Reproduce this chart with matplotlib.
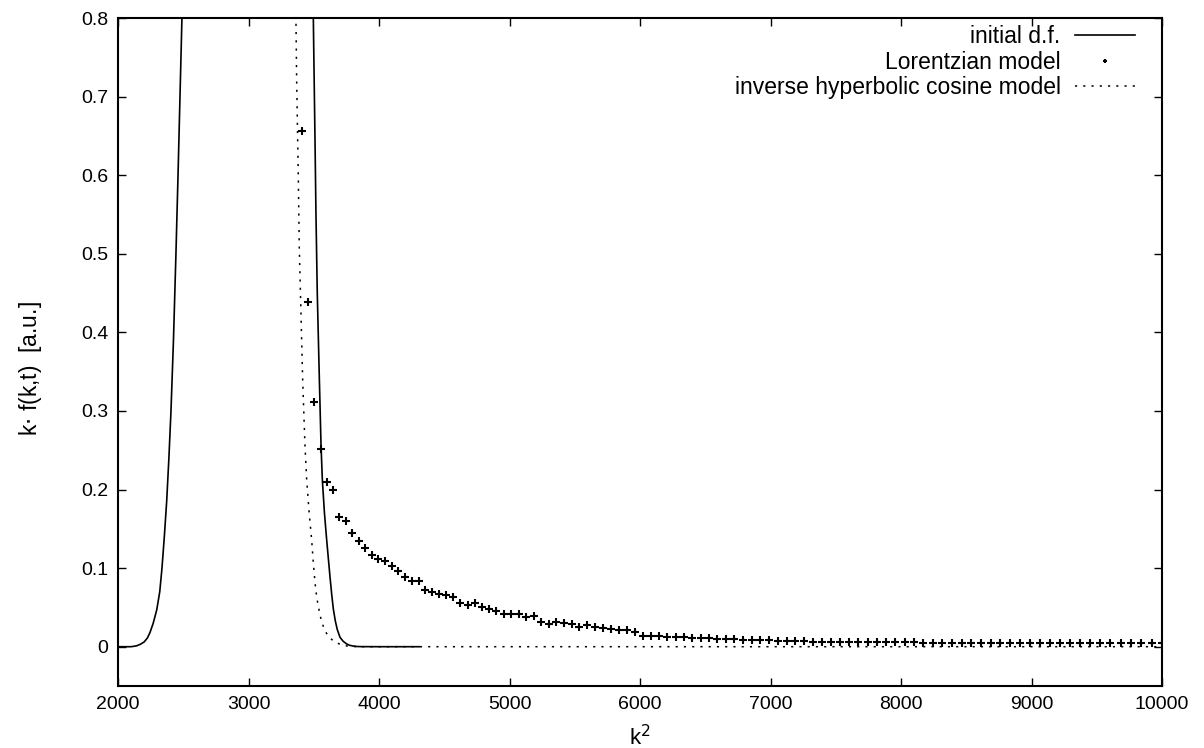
import matplotlib
matplotlib.use("Agg")
import matplotlib.pyplot as plt

plt.rcParams['font.family'] = ['Liberation Sans', 'DejaVu Sans']

# initial distribution function (solid line)
init_x = [2000, 2100, 2140, 2170, 2200, 2225, 2245, 2270, 2297, 2320, 2337, 2355, 2373, 2390, 2406,
          2425, 2444, 2460, 2475, 2490, 2505, 2520,
          3480, 3492, 3500, 3510, 3517, 3527, 3543, 3556, 3566, 3582, 3599, 3612, 3625, 3638, 3650,
          3665, 3680, 3701, 3725, 3752, 3775, 3803, 3830, 3860, 4000, 4310]
init_y = [0.0, 0.0, 0.001, 0.003, 0.006, 0.011, 0.018, 0.030, 0.047, 0.070, 0.100, 0.140, 0.185, 0.240, 0.300,
          0.390, 0.500, 0.600, 0.700, 0.800, 0.95, 1.1,
          1.1, 0.86, 0.76, 0.64, 0.55, 0.45, 0.34, 0.255, 0.212, 0.170, 0.136, 0.112, 0.088, 0.066, 0.048,
          0.033, 0.022, 0.012, 0.007, 0.0035, 0.0018, 0.0008, 0.0003, 0.0001, 0.0, 0.0]

# inverse hyperbolic cosine model (dotted line)
cosh_x = [3340, 3360, 3369, 3382, 3389, 3402, 3415, 3433, 3446, 3465, 3484, 3497, 3510, 3522, 3535,
          3553, 3573, 3598, 3625, 3650, 3676, 3710, 3752, 3800, 3850, 4300, 10000]
cosh_y = [1.1, 0.85, 0.721, 0.594, 0.509, 0.425, 0.340, 0.255, 0.212, 0.170, 0.136, 0.106, 0.081, 0.064, 0.051,
          0.037, 0.026, 0.017, 0.011, 0.0075, 0.005, 0.0025, 0.001, 0.0003, 0.0, 0.0, 0.0]

# Lorentzian model (points)
lor_x = [3411, 3457, 3505, 3552, 3600, 3648, 3697, 3745, 3795, 3844, 3894, 3944, 3994,
         4045, 4096, 4147, 4199, 4251, 4303, 4356, 4409, 4462, 4516, 4570, 4624, 4679, 4733, 4789, 4844, 4900, 4956,
         5013, 5069, 5127, 5184, 5242, 5300, 5358, 5417, 5476, 5535, 5595, 5655, 5715, 5776, 5837, 5898, 5960,
         6022, 6084, 6147, 6209, 6273, 6336, 6400, 6464, 6529, 6593, 6659, 6724, 6790, 6856, 6922, 6989, 7056,
         7123, 7191, 7259, 7327,
         7396, 7465, 7534, 7604, 7674, 7744, 7815, 7885, 7957, 8028, 8100, 8172, 8245, 8317, 8391, 8464,
         8538, 8612, 8686, 8761, 8836, 8911, 8987, 9063, 9139, 9216, 9293, 9370, 9448, 9526, 9604, 9683,
         9761, 9841, 9920, 10000]
lor_y = [0.656, 0.438, 0.312, 0.252, 0.210, 0.200, 0.165, 0.160, 0.145, 0.135, 0.125, 0.117, 0.111,
         0.109, 0.103, 0.096, 0.089, 0.084, 0.084, 0.0725, 0.070, 0.067, 0.066, 0.063, 0.056, 0.0525, 0.056, 0.0505, 0.048, 0.046, 0.041,
         0.041, 0.042, 0.038, 0.039, 0.031, 0.029, 0.032, 0.030, 0.029, 0.025, 0.0276, 0.0254, 0.0233, 0.0225, 0.0208, 0.0208, 0.0182,
         0.014, 0.014, 0.0131, 0.0127, 0.0123, 0.0118, 0.0115, 0.0106, 0.0106, 0.0102, 0.0098, 0.0093, 0.0089, 0.0085, 0.008, 0.008, 0.0076,
         0.0072, 0.0072, 0.0072, 0.0064,
         0.0065, 0.0063, 0.0062, 0.0061, 0.0060, 0.0058, 0.0058, 0.0057, 0.0056, 0.0055, 0.0054, 0.0053, 0.0053, 0.0052, 0.0051, 0.0050,
         0.0050, 0.0049, 0.0049, 0.0048, 0.0048, 0.0047, 0.0047, 0.0046, 0.0046, 0.0045, 0.0045, 0.0045, 0.0044, 0.0044, 0.0043, 0.0043,
         0.0043, 0.0042, 0.0042, 0.0041]

x_ticks = [2000, 3000, 4000, 5000, 6000, 7000, 8000, 9000, 10000]
y_ticks = [0, 0.1, 0.2, 0.3, 0.4, 0.5, 0.6, 0.7, 0.8]
y_tick_labels = ["0", "0.1", "0.2", "0.3", "0.4", "0.5", "0.6", "0.7", "0.8"]

fig = plt.figure(figsize=(12.04, 7.48), dpi=100)
ax = fig.add_axes([118 / 1204, 1 - 686 / 748, (1162 - 118) / 1204, (686 - 18) / 748])

ax.plot(init_x, init_y, color='black', lw=1.2, label='initial d.f.')
ax.plot(lor_x, lor_y, linestyle='none', marker='+', color='black', ms=5.5, mew=1.5,
        label='Lorentzian model')
ax.plot(cosh_x, cosh_y, color='black', lw=1.1, dashes=(1.4, 4.0), label='inverse hyperbolic cosine model')

ax.set_xlim(2000, 10000)
ax.set_ylim(-0.05, 0.8)
ax.set_xticks(x_ticks)
ax.set_yticks(y_ticks)
ax.set_yticklabels(y_tick_labels)
ax.tick_params(direction='in', length=6, width=1.0, top=True, right=True, labelsize=14, pad=7)
for s in ax.spines.values():
    s.set_linewidth(1.5)

ax.set_xlabel('k$^2$', fontsize=16, labelpad=9)
ax.set_ylabel('k$\\cdot$ f(k,t)  [a.u.]', fontsize=16.5)
ax.yaxis.set_label_coords(-0.071, 0.475)

leg = ax.legend(loc='upper right', bbox_to_anchor=(0.9786, 0.996), frameon=False, fontsize=16.5,
                markerfirst=False, handlelength=2.6, handletextpad=0.65, borderaxespad=0.0,
                borderpad=0.2, labelspacing=0.1, markerscale=0.55)
for t in leg.get_texts():
    t.set_ha('right')

fig.savefig('out.png', dpi=100)
